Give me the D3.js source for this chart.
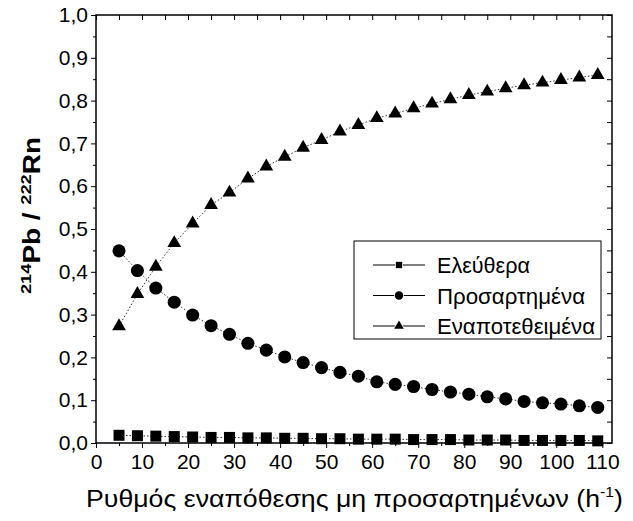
<!DOCTYPE html>
<html>
<head>
<meta charset="utf-8">
<script src="https://cdn.jsdelivr.net/npm/d3@7"></script>
<style>
  body { margin: 0; background: #fff; }
  svg { font-family: "Liberation Sans", Arial, sans-serif; }
</style>
</head>
<body>
<svg></svg>
<script>
const width = 633;
const height = 521;

// deposition rate (h^-1)
const rates = [5, 9, 13, 17, 21, 25, 29, 33, 37, 41, 45, 49, 53, 57, 61, 65, 69, 73, 77, 81, 85, 89, 93, 97, 101, 105, 109];

const free = [0.018, 0.017, 0.016, 0.015, 0.014, 0.013, 0.013, 0.012, 0.012, 0.011, 0.011, 0.010, 0.010, 0.009, 0.009, 0.009, 0.008, 0.008, 0.008, 0.007, 0.007, 0.007, 0.006, 0.006, 0.006, 0.006, 0.005];
const attached = [0.449, 0.403, 0.362, 0.329, 0.299, 0.274, 0.254, 0.233, 0.217, 0.201, 0.188, 0.176, 0.165, 0.156, 0.143, 0.137, 0.132, 0.125, 0.119, 0.114, 0.108, 0.103, 0.097, 0.094, 0.091, 0.087, 0.083];
const deposited = [0.273, 0.348, 0.412, 0.467, 0.513, 0.556, 0.585, 0.618, 0.646, 0.669, 0.690, 0.708, 0.728, 0.743, 0.759, 0.770, 0.782, 0.793, 0.803, 0.813, 0.821, 0.829, 0.836, 0.842, 0.848, 0.854, 0.860];

const seriesNames = ["Ελεύθερα", "Προσαρτημένα", "Εναποτεθειμένα"];
const xTicks = [0, 10, 20, 30, 40, 50, 60, 70, 80, 90, 100, 110];
const yTicks = [0, 0.1, 0.2, 0.3, 0.4, 0.5, 0.6, 0.7, 0.8, 0.9, 1.0];

const margin = { left: 96, top: 15, right: 21, bottom: 78 };

let svg = d3.select("svg").attr("width", width).attr("height", height);

const x = d3.scaleLinear().domain([0, 112.1]).range([margin.left, width - margin.right]);
const y = d3.scaleLinear().domain([0, 1]).range([height - margin.bottom, margin.top]);

const fmt = (d) => d.toFixed(1).replace(".", ",");

const minorX = d3.range(5, 112, 10);
const minorY = d3.range(0.05, 1, 0.1);

// bottom axis (ticks outward)
svg.append("g")
  .attr("transform", `translate(0,${y(0)})`)
  .call(d3.axisBottom(x).tickValues(xTicks).tickSize(5).tickSizeOuter(0).tickPadding(6).tickFormat(d3.format("d")))
  .call((g) => g.select(".domain").remove())
  .call((g) => g.selectAll("text").attr("font-size", 21).attr("fill", "#000").attr("font-family", "Liberation Sans, Arial"));
svg.append("g")
  .attr("transform", `translate(0,${y(0)})`)
  .call(d3.axisBottom(x).tickValues(minorX).tickSize(3).tickFormat(""))
  .call((g) => g.select(".domain").remove());

// left axis (ticks outward)
svg.append("g")
  .attr("transform", `translate(${x(0)},0)`)
  .call(d3.axisLeft(y).tickValues(yTicks).tickSize(5).tickPadding(3).tickFormat(fmt))
  .call((g) => g.select(".domain").remove())
  .call((g) => g.selectAll("text").attr("font-size", 21).attr("fill", "#000").attr("font-family", "Liberation Sans, Arial"));
svg.append("g")
  .attr("transform", `translate(${x(0)},0)`)
  .call(d3.axisLeft(y).tickValues(minorY).tickSize(3).tickFormat(""))
  .call((g) => g.select(".domain").remove());

// top and right axes (ticks inward)
svg.append("g")
  .attr("transform", `translate(0,${y(1)})`)
  .call(d3.axisBottom(x).tickValues(xTicks.concat(minorX)).tickSize(5).tickFormat(""))
  .call((g) => g.select(".domain").remove());
svg.append("g")
  .attr("transform", `translate(${x.range()[1]},0)`)
  .call(d3.axisLeft(y).tickValues(yTicks.concat(minorY)).tickSize(5).tickFormat(""))
  .call((g) => g.select(".domain").remove());

svg.selectAll(".tick line").attr("stroke", "#000").attr("stroke-width", 1);

// frame
svg.append("rect")
  .attr("x", x(0))
  .attr("y", y(1))
  .attr("width", x.range()[1] - x(0))
  .attr("height", y(0) - y(1))
  .attr("fill", "none")
  .attr("stroke", "#000")
  .attr("stroke-width", 1.5);

const series = [
  { name: seriesNames[0], values: free, symbol: d3.symbolSquare, size: 121, legendSize: 40, textW: 93 },
  { name: seriesNames[1], values: attached, symbol: d3.symbolCircle, size: 135, legendSize: 56, textW: 148 },
  { name: seriesNames[2], values: deposited, symbol: d3.symbolTriangle, size: 82, legendSize: 40, textW: 158 },
];

const line = d3.line().x((d) => x(d[0])).y((d) => y(d[1]));

series.forEach((s) => {
  const pts = rates.map((r, i) => [r, s.values[i]]);
  svg.append("path")
    .attr("d", line(pts))
    .attr("fill", "none")
    .attr("stroke", "#000")
    .attr("stroke-width", 0.8)
    .attr("stroke-dasharray", "1.5,2");
  svg.append("g")
    .selectAll("path")
    .data(pts)
    .enter()
    .append("path")
    .attr("transform", (d) => `translate(${x(d[0])},${y(d[1])})`)
    .attr("d", d3.symbol().type(s.symbol).size(s.size))
    .attr("fill", "#000");
});

// legend
const legend = svg.append("g");
legend.append("rect")
  .attr("x", 354)
  .attr("y", 241)
  .attr("width", 247)
  .attr("height", 98)
  .attr("fill", "#fff")
  .attr("stroke", "#000")
  .attr("stroke-width", 1);

series.forEach((s, i) => {
  const ly = 265 + i * 30.5;
  legend.append("line")
    .attr("x1", 373).attr("x2", 425)
    .attr("y1", ly).attr("y2", ly)
    .attr("stroke", "#000").attr("stroke-width", 1);
  legend.append("path")
    .attr("transform", `translate(399,${ly})`)
    .attr("d", d3.symbol().type(s.symbol).size(s.legendSize))
    .attr("fill", "#000")
    .attr("stroke", "#fff")
    .attr("stroke-width", 1.5)
    .attr("paint-order", "stroke");
  legend.append("text")
    .attr("x", 437)
    .attr("y", ly + 8)
    .attr("font-size", 22.5)
    .attr("textLength", s.textW)
    .attr("lengthAdjust", "spacingAndGlyphs")
    .text(s.name);
});

// axis titles, stretched to the reference's widths
const xLabel = svg.append("text")
  .attr("font-size", 24);
xLabel.append("tspan").text("Ρυθμός εναπόθεσης μη προσαρτημένων (h");
xLabel.append("tspan").attr("font-size", 14).attr("dy", -10).text("-1");
xLabel.append("tspan").attr("dy", 10).text(")");
const xw = xLabel.node().getBBox().width;
xLabel.attr("transform", `translate(86,507) scale(${537 / xw},1)`);

const yLabel = svg.append("text")
  .attr("font-size", 23)
  .attr("font-weight", "bold");
yLabel.append("tspan").attr("font-size", 15).attr("dy", -9).text("214");
yLabel.append("tspan").attr("dy", 9).text("Pb / ");
yLabel.append("tspan").attr("font-size", 15).attr("dy", -9).text("222");
yLabel.append("tspan").attr("dy", 9).text("Rn");
const yw = yLabel.node().getBBox().width;
yLabel.attr("transform", `translate(40,294) rotate(-90) scale(${157 / yw},1)`);
</script>
</body>
</html>
